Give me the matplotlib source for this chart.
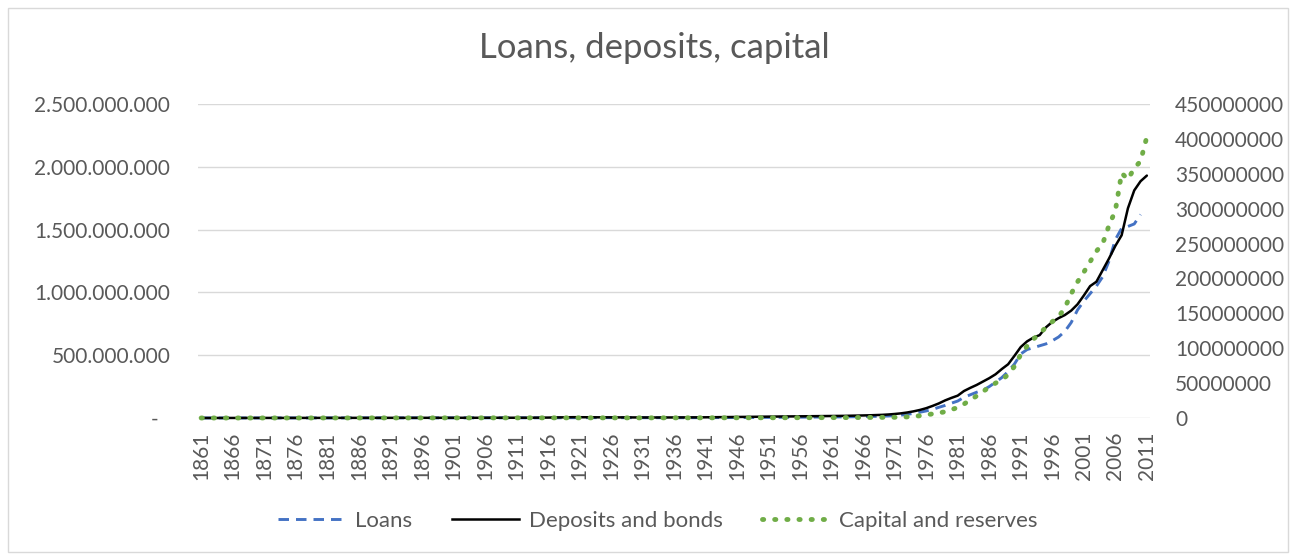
import numpy as np
import matplotlib
matplotlib.use("Agg")
import matplotlib.pyplot as plt
from matplotlib.ticker import FuncFormatter, FixedLocator
from matplotlib.patches import Rectangle
from matplotlib.lines import Line2D
from matplotlib.transforms import ScaledTranslation

plt.rcParams['font.family'] = ['Lato', 'DejaVu Sans']

years = list(range(1861, 2012))

# values in millions (NOK)
loans_m = [
    0.10, 0.11, 0.12, 0.13, 0.14, 0.15, 0.16, 0.17, 0.18, 0.19,
    0.20, 0.22, 0.24, 0.26, 0.28, 0.30, 0.31, 0.32, 0.33, 0.34,
    0.35, 0.36, 0.37, 0.38, 0.39, 0.40, 0.41, 0.42, 0.44, 0.46,
    0.48, 0.50, 0.52, 0.54, 0.56, 0.58, 0.60, 0.63, 0.66, 0.70,
    0.73, 0.76, 0.79, 0.82, 0.85, 0.88, 0.92, 0.96, 1.00, 1.05,
    1.10, 1.15, 1.20, 1.30, 1.45, 1.70, 2.10, 2.60, 3.00, 3.30,
    3.30, 3.10, 2.90, 2.80, 2.70, 2.60, 2.50, 2.40, 2.40, 2.30,
    2.20, 2.10, 2.00, 2.00, 2.00, 2.10, 2.20, 2.30, 2.40, 2.50,
    2.60, 2.70, 2.80, 2.90, 3.00, 3.30, 3.60, 3.90, 4.20, 4.50,
    4.80, 5.10, 5.40, 5.70, 6.00, 6.30, 6.60, 6.90, 7.20, 7.60,
    8.0, 8.5, 9.0, 9.6, 10.3, 11.0, 12.0, 13.0, 14.5, 16.0,
    19, 23, 29, 37, 46, 56, 68, 85, 100, 118,
    135, 165, 185, 205, 222, 250, 285, 322, 370, 430,
    510, 545, 560, 575, 590, 615, 645, 690, 760, 860,
    930, 990, 1050, 1125, 1250, 1420, 1510, 1525, 1545, 1620,
    np.nan,
]

deposits_m = [
    0.20, 0.22, 0.24, 0.26, 0.28, 0.30, 0.32, 0.34, 0.36, 0.38,
    0.40, 0.43, 0.46, 0.49, 0.52, 0.55, 0.58, 0.60, 0.62, 0.64,
    0.66, 0.68, 0.70, 0.72, 0.74, 0.76, 0.78, 0.80, 0.83, 0.86,
    0.89, 0.92, 0.95, 0.98, 1.01, 1.05, 1.10, 1.15, 1.20, 1.25,
    1.30, 1.35, 1.40, 1.45, 1.50, 1.55, 1.60, 1.66, 1.72, 1.80,
    1.90, 2.00, 2.10, 2.30, 2.70, 3.30, 4.20, 5.20, 6.00, 6.50,
    6.40, 6.00, 5.60, 5.40, 5.20, 5.00, 4.80, 4.70, 4.60, 4.50,
    4.30, 4.10, 4.00, 4.00, 4.10, 4.20, 4.40, 4.60, 4.80, 5.10,
    5.6, 6.2, 6.8, 7.4, 8.0, 8.4, 8.8, 9.2, 9.6, 10.0,
    10.4, 10.8, 11.2, 11.6, 12.0, 12.5, 13.0, 13.5, 14.0, 14.6,
    15.2, 16.0, 17.0, 18.0, 19.0, 20.0, 21.5, 23.0, 25.0, 28.0,
    32, 37, 44, 53, 64, 78, 96, 116, 140, 160,
    178, 215, 240, 263, 290, 317, 348, 390, 428, 495,
    565, 610, 640, 660, 722, 765, 795, 820, 855, 905,
    975, 1050, 1085, 1178, 1270, 1370, 1455, 1670, 1812, 1885,
    1930,
]

capital_m = [
    0.020, 0.021, 0.022, 0.023, 0.024, 0.025, 0.026, 0.027, 0.028, 0.029,
    0.030, 0.031, 0.032, 0.033, 0.034, 0.035, 0.036, 0.037, 0.038, 0.039,
    0.040, 0.042, 0.044, 0.046, 0.048, 0.050, 0.052, 0.054, 0.056, 0.058,
    0.060, 0.062, 0.064, 0.066, 0.068, 0.070, 0.072, 0.074, 0.077, 0.080,
    0.083, 0.086, 0.089, 0.092, 0.095, 0.098, 0.10, 0.11, 0.11, 0.12,
    0.12, 0.13, 0.13, 0.14, 0.15, 0.17, 0.19, 0.21, 0.23, 0.24,
    0.24, 0.23, 0.22, 0.21, 0.20, 0.20, 0.20, 0.20, 0.20, 0.20,
    0.20, 0.20, 0.20, 0.20, 0.20, 0.21, 0.21, 0.22, 0.22, 0.23,
    0.24, 0.25, 0.26, 0.27, 0.28, 0.29, 0.30, 0.31, 0.32, 0.33,
    0.34, 0.35, 0.36, 0.37, 0.38, 0.40, 0.42, 0.44, 0.46, 0.48,
    0.52, 0.55, 0.58, 0.62, 0.66, 0.70, 0.75, 0.80, 0.86, 0.92,
    1.0, 1.2, 1.6, 2.3, 3.2, 4.5, 5.8, 7.2, 9.0, 12.0,
    15, 20, 26, 31.5, 38, 44, 50, 55, 62, 74,
    91, 103, 113, 121, 130, 138, 145, 158, 178, 195,
    209, 224, 239, 250, 276, 297, 351, 342, 358, 368,
    403,
]

series_names = ["Loans", "Deposits and bonds", "Capital and reserves"]
left_ticks = [0, 500e6, 1000e6, 1500e6, 2000e6, 2500e6]
right_ticks = [0, 50e6, 100e6, 150e6, 200e6, 250e6, 300e6, 350e6, 400e6, 450e6]
x_tick_years = years[::5]

W, H = 1295, 559
fig = plt.figure(figsize=(W / 100, H / 100), dpi=100)
L, R, T, B = 198, 1150, 104, 418
ax = fig.add_axes([L / W, 1 - B / H, (R - L) / W, (B - T) / H])
ax2 = ax.twinx()

text_col = "#595959"
grid_col = "#D9D9D9"
blue, green = "#4472C4", "#70AD47"
blue_ls = (0, (3.6, 2.4))
green_lw = 3.5
green_ls = (0, (0.25, 2.25))

yrs = np.array(years)
l1, = ax.plot(yrs, np.array(loans_m) * 1e6, color=blue, lw=2.1,
              linestyle=blue_ls, dash_capstyle="butt", zorder=3, clip_on=False)
l2, = ax.plot(yrs, np.array(deposits_m) * 1e6, color="black", lw=1.8,
              solid_capstyle="round", zorder=4, clip_on=False)
l3, = ax2.plot(yrs, np.array(capital_m) * 1e6, color=green, lw=green_lw,
               linestyle=green_ls, dash_capstyle="round", zorder=5, clip_on=False)

ax.set_xlim(1860.5, 2011.5)
ax.set_ylim(0, 2.5e9)
ax2.set_ylim(0, 4.5e8)

ax.yaxis.set_major_locator(FixedLocator(left_ticks))
ax2.yaxis.set_major_locator(FixedLocator(right_ticks))
ax.xaxis.set_major_locator(FixedLocator(x_tick_years))

def left_fmt(v, pos):
    if v == 0:
        return "-"
    return f"{int(round(v)):,}".replace(",", ".")

ax.yaxis.set_major_formatter(FuncFormatter(left_fmt))
ax2.yaxis.set_major_formatter(FuncFormatter(lambda v, p: f"{int(round(v))}"))
ax.set_xticklabels([str(y) for y in x_tick_years], rotation=90)

for a in (ax, ax2):
    for s in a.spines.values():
        s.set_visible(False)

ax.grid(axis="y", color=grid_col, lw=1.0)
ax.set_axisbelow(True)
ax.tick_params(axis="y", length=0, pad=20, labelsize=15, labelcolor=text_col)
ax2.tick_params(axis="y", length=0, pad=18, labelsize=15, labelcolor=text_col)
ax.tick_params(axis="x", length=0, pad=10, labelsize=15, labelcolor=text_col)

# accounting-style dash for zero sits a little further left
fig.canvas.draw()
t0 = ax.yaxis.get_major_ticks()[0]
t0.label1.set_transform(t0.label1.get_transform() +
                        ScaledTranslation(-0.12, 0, fig.dpi_scale_trans))

fig.text(0.505, 1 - 48 / H, "Loans, deposits, capital", ha="center", va="center",
         fontsize=25, color=text_col)

handles = [Line2D([], [], color=blue, lw=2.1, linestyle=blue_ls),
           Line2D([], [], color="black", lw=1.8),
           Line2D([], [], color=green, lw=green_lw, linestyle=green_ls,
                  dash_capstyle="round")]
fig.legend(handles, series_names, loc="center", bbox_to_anchor=(0.508, 1 - 521 / H),
           ncol=3, frameon=False, fontsize=16, labelcolor=text_col,
           handlelength=3.0, handletextpad=0.45, columnspacing=1.8)

fig.patches.append(Rectangle((7.5 / W, 7.5 / H), (W - 15) / W, (H - 15) / H,
                             transform=fig.transFigure, fill=False,
                             edgecolor=grid_col, lw=1.0))

fig.savefig("out.png", dpi=100)
